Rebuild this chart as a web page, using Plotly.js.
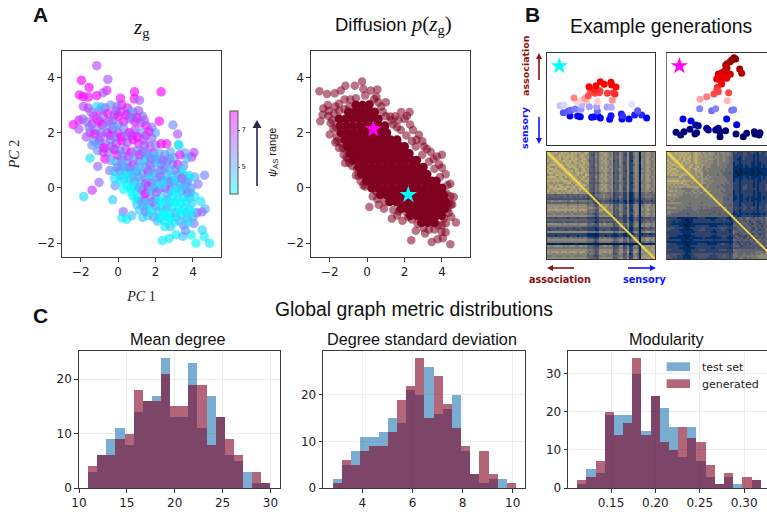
<!DOCTYPE html>
<html><head><meta charset="utf-8">
<script src="https://cdn.plot.ly/plotly-3.0.1.min.js"></script>
<style>html,body{margin:0;padding:0;background:#fff;overflow:hidden}</style>
</head><body><div id="chart" style="width:767px;height:515px"></div>
<script>
// ---------- Panel A: z_g scatter, [PC1, PC2, psi_AS range]
const zgPoints = [
[-1.14,4.43,6.8],[-1.96,3.9,8],[-.55,3.93,6.5],[-1.55,3.64,8],[-.6,3.53,7.6],[-.8,3.45,6.5],[-2.07,3.37,7.8],[-1.86,3.31,7.9],[-1.59,3.29,7.9],[-1.14,3.34,8],[.88,3.48,8],[2.3,3.48,8],[.86,3.23,7.8],[1.14,3.18,6.5],[.13,3.25,7.8],[-1.86,2.95,6.8],
[2.2,2.42,8],[2.93,2.28,5.5],[3.18,1.95,6.5],[3.23,1.57,4.2],[-2.39,2.29,8],[-2.1,2.13,6.5],[-2.1,2.45,7.5],[-1.9,2.5,6.5],[-1.5,1.08,4.2],[-1.09,.78,6.2],[-1.02,.2,6.2],[-1.39,-.08,7],[-1.84,-.31,4.2],[-.29,-.43,4.3],[-.16,.08,5.5],[-.45,.63,6],[.27,-.86,6.2],[.2,-1.08,3.8],[.46,-1.13,3.8],[.73,-1,4.5],[1.32,-1.07,4.4],
[2.37,-1.9,3.8],[2.73,-1.83,4],[3.09,-1.69,3.8],[3.46,-1.75,4.5],[3.91,-1.7,3.8],[4.16,-2,3.5],[4.89,-2,3.8],[4.6,-1.76,3.8],[4.5,-1.52,4.2],[3.6,-1.54,5.5],[4.05,-1.29,5.8],[4.62,.46,5.7],[4.27,.14,6],[4.43,-.49,4],[4.66,-.76,4.8],[4.48,-.87,6.2],[4.2,-.9,6.5],[4.05,1.28,6.8],[3.93,1.12,6.8],[3.68,1.08,4.8],[3.57,1.27,5.2],[2.6,1.6,7.5],
[-1.6,2.9,7],[-1.3,2.6,7.8],[-1,2.8,7.5],[-.7,2.9,6.5],[-.4,3,5.5],[-.1,2.8,7],[.2,3,7.5],[.5,2.9,7.8],[.8,2.75,6],[1.1,2.8,6.5],[1.3,2.6,6],[-1.7,2.4,6],[-1.4,2.3,7.5],[-1.2,2.1,5.5],[-1.5,2,7.2],[-1.7,1.85,6.5],[-1,2.4,8],[-.8,2.6,6.2],[-.5,2.4,7],[-.2,2.65,6],[0,2.6,8],[0,2.3,5.5],[.3,2.4,7.8],[.6,2.5,6],[.9,2.4,8],[1.2,2.35,6.5],[1.5,2.25,7.8],[1.8,2.2,6],[2,2,5],[-.9,2,5.8],[-.6,2,6.5],[-.3,2.1,8],[0,2,7],[.3,2.15,5.8],[.6,2,8],[.9,2.1,6.8],[1.2,2,5.2],[1.5,1.9,7],[1.8,1.8,6.2],
[-1.3,1.7,5.5],[-1,1.7,7.5],[-.7,1.6,6],[-.4,1.75,5.5],[-.1,1.6,6.8],[.2,1.7,8],[.5,1.65,6.5],[.8,1.75,8],[1.1,1.6,7.8],[1.4,1.55,6.2],[1.7,1.5,7],[2,1.55,5.5],[2.3,1.6,8],[-1.1,1.35,5.5],[-.8,1.3,6.8],[-.5,1.3,5.8],[-.2,1.4,8],[.1,1.35,5.5],[.4,1.4,6.5],[.7,1.3,7.8],[1,1.35,5.5],[1.3,1.3,6.5],[1.6,1.2,4.5],[1.9,1.25,7.5],[2.2,1.25,5],[2.5,1.2,5.5],[2.8,1.3,5],[3,1.1,4.8],[3.3,1.2,7.5],
[-.7,1.05,8],[-.4,1,5.5],[-.1,.95,4.5],[.2,1,6.2],[.5,.9,5],[.8,.85,7.8],[1.1,.95,6],[1.4,1,4.2],[1.7,.85,6.5],[2,.9,5.5],[2.3,.85,5],[2.6,.95,6],[2.9,.85,5.8],[3.2,.85,7.5],[3.5,.8,5.5],[-.2,.6,4.3],[.1,.6,5.5],[.4,.6,4.8],[.7,.55,5.5],[1,.6,6.5],[1.3,.5,5],[1.6,.6,7.8],[1.9,.55,5.5],[2.3,.65,7],[2.6,.5,4.8],[2.9,.4,4.2],[3.2,.5,5.2],[3.5,.45,5],[3.8,.45,4],[4.1,.4,5],
[.3,.3,3.9],[.6,.3,5],[.9,.25,6.2],[1.2,.2,4.2],[1.5,.35,5.5],[1.8,.2,7.8],[2.1,.3,5],[2.4,.25,5.5],[2.7,.2,6.5],[3,.15,4.5],[3.3,.2,5.2],[3.6,.1,6],[3.9,0,5.5],[.3,-.05,3.6],[.7,0,3.7],[1,-.05,4.2],[1.3,-.1,6],[1.6,.05,7.8],[1.9,0,5],[2.2,-.05,4.8],[2.5,0,7.5],[2.8,-.1,6.5],[3.1,0,4.5],[3.4,-.1,5],[3.7,-.2,7.5],
[.8,-.3,3.6],[1.1,-.35,4.2],[1.4,-.45,7.5],[1.7,-.3,5.5],[2,-.4,5],[2.3,-.35,4.2],[2.6,-.45,4.8],[2.9,-.3,3.9],[3.2,-.4,4.5],[3.5,-.35,3.8],[3.8,-.35,4.5],[4.1,-.3,4],[1,-.6,4.5],[1.35,-.65,5.5],[1.65,-.75,4],[2,-.65,6],[2.3,-.7,3.7],[2.6,-.75,6.5],[2.9,-.65,3.7],[3.2,-.75,3.7],[3.5,-.7,4.2],[3.8,-.8,4],[1.6,-1,4.2],[1.9,-1.05,5.5],[2.2,-1.1,4.2],[2.5,-1.2,3.7],[2.8,-1.1,3.5],[3.1,-1.05,4.2],[3.4,-1,3.9],[3.7,-1.1,4.5],[4,-1.05,5],[2.5,-1.4,3.8],[2.8,-1.4,4.3],[3.5,-1.35,5.5],[3.75,-1.25,4.2],
[-1.14,2.95,4],[-.88,2.93,4.8],[-.2,.35,4],[.1,.25,3.8],[.35,.75,4.4],[2.2,.95,4],[1.9,1.15,3.9],[1.5,1.05,4.2],[3.25,1.55,4],[3.4,.65,4],[3.8,.35,3.8],[-.2,2.2,4.8],[-1.4,1.55,5.5],[-1.1,1.6,5],[.6,2.75,4.8],
[-1.45,2.75,6.2],[-1.15,2.5,6.8],[-.85,2.3,7.9],[-.55,2.7,7.6],[-.3,2.45,6.4],[-.05,2.95,6],[.15,2.75,7],[.45,2.65,7.8],[.75,2.55,5.8],[1,2.55,7.2],[1.4,2.45,6.4],[1.65,2.05,7.5],[-1.55,2.2,5.8],[-1.25,1.95,7.6],[-.95,1.85,6.4],[-.65,2.25,5.6],[-.45,1.9,7.4],[-.15,1.85,6],[.15,1.85,7.8],[.45,1.9,6.2],[.75,1.9,7],[1.05,1.85,7.9],[1.35,1.75,6.6],[-.75,1.45,7.9],[-.35,1.5,6.5],[-.05,1.2,7.4],[.25,1.15,5.5],[.55,1.15,6.8],[.85,1.1,5.4],[1.15,1.2,7],[1.45,1.3,5.8],[1.75,1.05,6.2],[2.05,1.05,5.2],[2.4,1,6.4],[2.75,1.05,5.4],[3.05,.65,5.8],[2.75,.65,4.6],[2.45,.7,5.6],[2.15,.55,5],[1.75,.7,5.4],[1.45,.75,5.8],[1.15,.75,4.6],[.85,.65,4.4],[.6,.75,6],[.2,.8,5.2],[-.05,.75,5.8],[.15,.45,4.2],[.5,.45,3.8],[.8,.45,4.4],[1.1,.4,5.2],[1.45,.15,6.6],[1.7,.4,4.4],[2,.15,4.6],[2.25,.4,6],[2.55,.25,4.2],[2.85,.25,5.6],[3.1,.3,4],[3.4,.35,6.2],[3.7,.2,5.6],[.5,.1,3.6],[.85,.1,3.8],[1.15,0,5.2],[1.45,-.2,7.8],[1.75,-.1,4.4],[2.05,-.15,6.4],[2.35,.1,4],[2.65,-.2,5],[2.95,-.15,3.7],[3.25,-.15,4],[3.55,.05,4.6],[3.85,-.15,4.8],[.7,-.15,3.6],[.95,-.4,3.8],[1.25,-.5,5],[1.55,-.55,4.4],[1.85,-.5,6.2],[2.15,-.5,3.8],[2.45,-.55,3.6],[2.75,-.5,4.2],[3.05,-.5,3.5],[3.35,-.55,3.6],[3.65,-.5,3.9],[3.95,-.55,4.2],[1.15,-.8,4.4],[1.45,-.85,5.6],[1.8,-.85,3.8],[2.15,-.85,4.8],[2.45,-.9,3.5],[2.75,-.9,3.6],[3.05,-.9,4.6],[3.35,-.85,3.5],[3.65,-.9,4],[3.95,-.85,3.8],[2.1,-1.2,4.4],[2.35,-1.05,3.6],[2.65,-1.05,3.5],[3,-1.25,3.8],[3.3,-1.2,4.6]
];
const psiTickVals = [5, 7];

// ---------- Panel A: diffusion samples
const diffusionCoreRows = [
[3,[-.6,-.25,.1]],[2.75,[-1,-.65,-.3,.05,.4]],[2.5,[-1.5,-1.15,-.8,-.45,-.1,.25,.6]],[2.25,[-1.45,-1.1,-.75,-.4,-.05,.3,.65,.95]],[2,[-1.4,-1.05,-.7,-.35,0,.35,.7,1.05]],[1.75,[-1.2,-.85,-.5,-.15,.2,.55,.9,1.25,1.6]],[1.5,[-1.05,-.7,-.35,0,.35,.7,1.05,1.4,1.75,2]],[1.25,[-.9,-.55,-.2,.15,.5,.85,1.2,1.55,1.9,2.25]],[1,[-.75,-.4,-.05,.3,.65,1,1.35,1.7,2.05,2.4,2.65]],[.75,[-.45,-.1,.25,.6,.95,1.3,1.65,2,2.35,2.7,3]],[.5,[-.3,.05,.4,.75,1.1,1.45,1.8,2.15,2.5,2.85,3.2]],[.25,[-.05,.3,.65,1,1.35,1.7,2.05,2.4,2.75,3.1,3.45,3.7]],[0,[.25,.6,.95,1.3,1.65,2,2.35,2.7,3.05,3.4,3.75,4]],[-.25,[.7,1.05,1.4,1.75,2.1,2.45,2.8,3.15,3.5,3.85,4.1]],[-.5,[1.2,1.55,1.9,2.25,2.6,2.95,3.3,3.65,4,4.2]],[-.75,[1.8,2.15,2.5,2.85,3.2,3.55,3.9,4.15]],[-1,[2.3,2.65,3,3.35,3.7,4]],[-1.25,[2.9,3.25,3.6]]
];
const diffusionEdge = [
[-2.55,3.5],[-2.14,3.4],[-1.73,3.43],[-1.41,3.53],[-1.16,3.7],[-.66,3.7],[-.27,3.86],[-.2,3.58],[.2,3.53],[.55,3.57],[.38,3.22],[1,3.1],[-2.34,2.88],[-2.38,2.65],[-2.1,3],[-1.7,2.95],[-2.5,2.42],[-2.07,2.61],[-2,1.94],[-1.62,1.86],[-1.4,1.63],[-1.12,1.39],[-1.18,.9],[-.95,.9],[-.46,.45],[.12,-.69],[.55,-.4],[.62,-.61],[1.32,-1.11],[1.89,-1.19],[2.36,-1.89],[3.45,-1.96],[3.77,-1.86],[4.05,-1.82],[4.45,-2.04],[3.98,-1.59],[4.2,-1.6],[4.75,-1.25],[4.21,-1.28],[4.63,-.33],[4.3,.11],[4,.73],[4,1.2],[3.55,1.05],[2.95,1.69],[2.77,1.93],[2.3,2.3],[2.27,2.75],[2.13,2.61],[1.82,2.75],[1.68,2.47],[1.23,2.59],[3.2,1.41],[3.73,1.14],[4.48,-.6],[4.36,-.9],[3.55,-1.27],[3.02,-1.45],[2.4,-1.14],[2.13,-.9],
[-1.5,3.05],[-1.2,3.2],[-.9,3.2],[-.6,3.25],[.75,2.95],[.6,3.1],[1,2.6],[1.4,2.3],[1.8,2.1],[2.1,1.9],[2.4,1.7],[2.6,1.5],[2.95,1.2],[3.3,.95],[3.6,.7],[3.9,.4],[4.25,-.2],[4.45,-.3],[4.35,-.55],[4.3,-.75],[4.1,-1.1],[3.8,-1.35],[3.3,-1.5],[2.7,-1.3],[2.2,-1.05],[1.7,-.85],[1.4,-.8],[.95,-.5],[.5,-.15],[.2,.15],[-.1,.05],[-.35,.25],[-.55,.7],[-.8,.8],[-1,1.05],[-1.25,1.2],[-1.5,1.45],[-1.7,1.65],[-1.8,2.15],[-1.85,2.45],[-2.05,2.8],[-1.75,2.7],[-1.5,2.8],[-1.2,2.85],[-.95,2.95],[.5,3.3],[-.1,3.35],
[1.5,2.6],[2,2.5],[2.45,2.1],[2.65,1.75],[3.05,1.5],[3.4,1.3],[3.85,.85],[4.2,.5],[4.45,.15],[4.55,-.6],[.15,3.05],[.85,2.75],[1.3,2.45],[1.6,2.2],[-1.95,2.35],[-1.65,2.2],[-1.6,1.7],[-1.3,1.45],[-1.1,1.1],[-.6,.45],[-.2,.1],[.3,-.3],[.9,-.75],[1.6,-1],[2.6,-1.55],[3.1,-1.65],[3.6,-1.5],[4,-1.35],[4.5,-1.05]
];
const starCyan = [2.2, -0.25];
const starMagenta = [0.33, 2.13];

// ---------- Panel B: example graphs [image x, image y, position on the association axis]
const graphCyan = [
[75,198,.25],[98,198,.25],[106,200,.24],[140,202,.25],[148,200,.26],[158,197,.27],[166,204,.24],[194,208,.24],[198,197,.27],[229,192,.28],[231,207,.23],[252,207,.23],[269,195,.28],[290,195,.29],[305,204,.25],
[55,188,.33],[70,183,.34],[78,181,.35],[90,177,.37],[157,183,.35],[278,182,.34],[233,198,.3],
[108,178,.4],[110,165,.43],[133,170,.41],[155,170,.41],[186,171,.41],[199,172,.42],[45,167,.44],[57,165,.46],[260,163,.47],
[97,155,.54],[113,150,.55],[125,152,.56],[157,155,.55],[120,145,.6],[87,144,.62],[202,151,.61],
[130,137,.67],[137,125,.68],[150,130,.68],[163,128,.68],[165,122,.69],[153,123,.7],[187,130,.69],[205,128,.69],[147,118,.72],[210,132,.71],
[132,110,.75],[153,107,.75],[166,95,.76],[178,103,.75],[198,97,.76],[213,111,.74],[200,105,.75]
];
const graphMagenta = [
[207,23,.98],[212,27,.97],[200,30,.96],[195,35,.95],[186,41,.93],[182,46,.92],[224,57,.91],[230,70,.89],
[186,55,.87],[180,62,.86],[170,68,.85],[160,72,.84],[190,74,.84],[196,73,.84],[178,75,.83],[165,75,.82],
[155,87,.79],[172,87,.79],[180,82,.8],[170,102,.75],[157,112,.72],[165,90,.78],[185,85,.79],[160,80,.8],
[156,118,.7],[147,132,.68],[191,128,.68],[160,125,.68],[125,140,.63],[105,148,.59],[187,152,.57],
[104,176,.38],[140,182,.36],[152,176,.38],[200,181,.36],[206,179,.37],[54,207,.24],[78,213,.22],[185,207,.24],[215,224,.2],
[33,247,.06],[47,255,.05],[57,245,.05],[75,238,.07],[92,225,.12],[100,227,.11],[90,252,.05],[95,248,.05],[125,235,.09],[130,240,.08],[152,240,.08],[160,235,.09],[165,245,.06],[165,260,.03],[182,242,.07],[213,252,.05],[235,260,.04],[245,250,.05],[268,245,.06],[270,252,.05],[282,255,.04],[285,248,.05]
];
const graphStar = [43, 48];

// ---------- Panel B: connectivity matrices, upper triangle, one digit per cell (0 dark .. 9 bright)
const matrixCyan = [
"987786787876878776787 44354 6767656 343 65336 22565 06567656",
"98767878687877678776 43354 6677656 343 65326 22565 06566656",
"9877868787877678767 44364 6767656 344 65336 22465 05567656",
"987867876878767876 44354 6767566 343 65336 22565 06567566",
"98778778787678776 34354 6677656 243 65336 21565 06567656",
"9876878678776877 44354 6767656 343 65236 22565 16567656",
"987787877687867 44364 6667656 343 65336 22465 06566656",
"98678787678776 43354 6767566 343 55336 22565 06567656",
"9877678767867 44354 6767656 344 65336 22565 05567566",
"987868767876 44354 6677656 343 65326 22565 06567656",
"98767878677 33343 5667556 243 55336 21465 05566656",
"9877867687 44354 6767656 343 65336 22565 06567656",
"987677876 44364 6767566 343 65336 22565 06567566",
"98768767 43354 6677656 343 65236 22465 06567656",
"9786787 44354 6767656 344 65336 22565 15567656",
"987667 33343 5666556 243 55326 21465 05566556",
"97876 44354 6767656 343 65336 22565 06567656",
"9766 44354 6677566 343 65336 22465 06567656",
"976 43354 6767656 343 65236 22565 05567566",
"86 44354 6667656 344 65336 22565 06566656",
"8 33243 4555445 233 44225 11354 04455445",
"73354 5565545 233 44225 11354 04454544",
"7344 5565545 233 54225 11354 04455544",
"833 4454434 232 43225 11243 03344434",
"72 3343323 121 33114 00232 02333323",
"8 3443433 222 33214 11243 02343433",
"8767656 343 65336 22565 05567656",
"867656 343 55336 22465 05566656",
"87566 344 65326 22565 06567566",
"8656 343 65336 21565 06567656",
"866 343 55336 22465 05566556",
"86 343 65336 22565 06567656",
"8 243 55226 21464 05566556",
"733 33224 11343 02333343",
"83 44225 11343 03344344",
"8 44225 21454 03445445",
"86446 22465 05566656",
"8436 22565 06566556",
"825 11343 02334334",
"84 11343 03344344",
"8 22565 05567656",
"81233 01222122",
"8343 02223223",
"864 05566656",
"85 06567566",
"8 04455445",
"80111111",
"8767667","876676","87677","8767","877","87","9"
];
const matrixMagenta = [
"987787878787678776 766766565665654 232223322322132232343",
"98778787877678776 676766565565654 222223322212122232333",
"9877878778678767 676665665565544 222123222212122222333",
"987868787678776 666766565565544 221123222212122222332",
"98778778678767 676665565565544 222122222212122222333",
"9786877678776 666665565555544 122122222112112222322",
"987767867767 666655565555444 121112122112112122322",
"98678767867 566655555555444 111112112111112122222",
"9777678676 565555555554444 111011111011011112211",
"977667776 556555555454444 101001111001001111111",
"87667677 555555555544434 100001011001000111111",
"8767667 556555545544444 110011111011011111211",
"876767 565655555554444 111112112111112122222",
"87667 666555555555444 122112212112112122322",
"8667 656565555555444 122122222212112222332",
"867 665655555554544 222122222212122222333",
"86 556555555454444 222122322212122232333",
"8 556555545544444 222123322212122232333",
"865555555554444 222123322222122232333",
"85655555454444 122122222212122222333",
"8555555544444 122122222212112222332",
"865555554434 122112222212112222322",
"85555544444 112112212112112122322",
"8555544344 112112112111112122222",
"855544444 122112212112112222322",
"85544444 222122222212122222332",
"8544434 222123222212122232333",
"844444 222123322222132232333",
"85444 232223322322132232343",
"8444 222123222222122232333",
"844 122122222212122222333",
"83 112112112111112122222",
"8 221122222212122222333",
"833443454334344354555",
"83443443434334345554",
"8344342343234344454",
"834434234323344445",
"83443343342344455",
"8344324333344554",
"834234323344454",
"83443343344455",
"8234323344454",
"834434344555",
"83343344455",
"8443445555",
"834345565",
"84345566",
"8445666",
"834566",
"85666","8677","876","87","9"
];

// ---------- Panel C: histograms
const meanDegreeStart = 10.95, meanDegreeWidth = 0.9525;
const meanDegreeTest = [3,6,9,11,8,14,16,17,24,13,13,23,11,17,13,6,5,3,1,1];
const meanDegreeGen  = [4,6,6,9,10,18,16,16,21,15,15,19,19,8,13,9,6,0,3,1];
const degreeStdStart = 2.82, degreeStdWidth = 0.3655;
const degreeStdTest = [2,5,8,11,11,12,15,14,21,20,26,16,17,20,8,3,1,2,2,0];
const degreeStdGen  = [1,6,5,8,9,9,12,19,22,28,15,24,18,13,9,3,8,3,0,1];
const modularityStart = 0.112, modularityWidth = 0.01033;
const modularityTest = [1,5,4,19,19,19,30,15,24,21,16,8,16,7,3,1,3,1,0,2];
const modularityGen  = [2,3,7,20,14,17,34,14,24,12,10,16,13,12,6,1,4,0,3,2];

const BLUE = 'rgba(31,119,180,0.6)', WINE = 'rgba(128,0,32,0.6)';
const W = 767, H = 515;
const dx = (a,b) => [a/W, b/W];
const dy = (top,bottom) => [1-bottom/H, 1-top/H];
const SANS = 'Liberation Sans, Arial, sans-serif', DJ = 'DejaVu Sans, sans-serif', SERIF = 'Liberation Serif, serif';
const frame = {showline:true, mirror:true, linecolor:'#3a3a3a', linewidth:1.2, zeroline:false, showgrid:false, ticks:'outside', ticklen:3.5, tickwidth:1, tickcolor:'#333', tickfont:{family:DJ,size:12,color:'#222'}};
const bare = {showline:true, mirror:true, linecolor:'#333', linewidth:1.2, zeroline:false, showgrid:false, showticklabels:false, ticks:''};
const histGrid = {showgrid:true, gridcolor:'rgba(0,0,0,0.07)', gridwidth:1};

const cols = (rows,k) => rows.map(r => r[k]);
const coreX = diffusionCoreRows.flatMap(r => r[1]);
const coreY = diffusionCoreRows.flatMap(r => r[1].map(() => r[0]));
function square(rows){
  const clean = rows.map(r => r.replace(/ /g,''));
  const n = clean.length, z = Array.from({length:n}, () => new Array(n).fill(5));
  clean.forEach((r,i) => { for (let k=0;k<r.length && i+k<n;k++){ z[i][i+k] = +r[k]; z[i+k][i] = +r[k]; } });
  return z;
}
const centers = (start,width,n) => Array.from({length:n}, (_,i) => start + width*(i+.5));
const seismic = [[0,'rgb(0,0,76)'],[.25,'rgb(0,0,255)'],[.5,'rgb(255,255,255)'],[.75,'rgb(255,0,0)'],[1,'rgb(128,0,0)']];

const data = [
 {type:'scatter',mode:'markers',xaxis:'x',yaxis:'y',x:cols(zgPoints,0),y:cols(zgPoints,1),
  marker:{size:9.5,color:cols(zgPoints,2),cmin:3.54,cmax:8.03,colorscale:[[0,'rgba(0,255,255,0.65)'],[1,'rgba(255,0,255,0.65)']],showscale:false}},
 {type:'scatter',mode:'markers',xaxis:'x',yaxis:'y',x:[null],y:[null],
  marker:{size:1,color:[5],cmin:3.54,cmax:8.03,colorscale:[[0,'rgba(0,255,255,0.5)'],[1,'rgba(255,0,255,0.5)']],showscale:true,
   colorbar:{x:230/W,xanchor:'left',y:1-111/H,yanchor:'top',lenmode:'pixels',len:83,thicknessmode:'pixels',thickness:8,xpad:0,ypad:0,
     tickvals:psiTickVals,ticks:'outside',ticklen:2,tickwidth:.8,tickcolor:'#333',tickfont:{family:DJ,size:7,color:'#222'},outlinewidth:1,outlinecolor:'#555',borderwidth:0}}},
 {type:'scatter',mode:'markers',xaxis:'x2',yaxis:'y2',x:coreX,y:coreY,marker:{size:9,color:'rgb(128,0,32)'}},
 {type:'scatter',mode:'markers',xaxis:'x2',yaxis:'y2',x:cols(diffusionEdge,0),y:cols(diffusionEdge,1),marker:{size:8.5,color:'rgba(128,0,32,0.55)'}},
 {type:'scatter',mode:'markers',xaxis:'x2',yaxis:'y2',x:[starMagenta[0]],y:[starMagenta[1]],marker:{symbol:'star',size:13,color:'#ff00ff'}},
 {type:'scatter',mode:'markers',xaxis:'x2',yaxis:'y2',x:[starCyan[0]],y:[starCyan[1]],marker:{symbol:'star',size:13,color:'#00ffff'}},
 {type:'scatter',mode:'markers',xaxis:'x3',yaxis:'y3',x:cols(graphCyan,0),y:cols(graphCyan,1),marker:{size:7,color:cols(graphCyan,2),cmin:0,cmax:1,colorscale:seismic}},
 {type:'scatter',mode:'markers',xaxis:'x3',yaxis:'y3',x:[graphStar[0]],y:[graphStar[1]],marker:{symbol:'star',size:13,color:'#00ffff'}},
 {type:'scatter',mode:'markers',xaxis:'x4',yaxis:'y4',x:cols(graphMagenta,0),y:cols(graphMagenta,1),marker:{size:7,color:cols(graphMagenta,2),cmin:0,cmax:1,colorscale:seismic}},
 {type:'scatter',mode:'markers',xaxis:'x4',yaxis:'y4',x:[graphStar[0]],y:[graphStar[1]],marker:{symbol:'star',size:13,color:'#ff00ff'}},
 {type:'heatmap',xaxis:'x5',yaxis:'y5',z:square(matrixCyan),zmin:0,zmax:10.5,colorscale:'Cividis',showscale:false},
 {type:'heatmap',xaxis:'x6',yaxis:'y6',z:square(matrixMagenta),zmin:0,zmax:10.5,colorscale:'Cividis',showscale:false},
 {type:'bar',xaxis:'x7',yaxis:'y7',x:centers(meanDegreeStart,meanDegreeWidth,meanDegreeTest.length),y:meanDegreeTest,width:meanDegreeWidth,marker:{color:BLUE,line:{width:0}},name:'test set'},
 {type:'bar',xaxis:'x7',yaxis:'y7',x:centers(meanDegreeStart,meanDegreeWidth,meanDegreeGen.length),y:meanDegreeGen,width:meanDegreeWidth,marker:{color:WINE,line:{width:0}},name:'generated'},
 {type:'bar',xaxis:'x8',yaxis:'y8',x:centers(degreeStdStart,degreeStdWidth,degreeStdTest.length),y:degreeStdTest,width:degreeStdWidth,marker:{color:BLUE,line:{width:0}},name:'test set'},
 {type:'bar',xaxis:'x8',yaxis:'y8',x:centers(degreeStdStart,degreeStdWidth,degreeStdGen.length),y:degreeStdGen,width:degreeStdWidth,marker:{color:WINE,line:{width:0}},name:'generated'},
 {type:'bar',xaxis:'x9',yaxis:'y9',x:centers(modularityStart,modularityWidth,modularityTest.length),y:modularityTest,width:modularityWidth,marker:{color:BLUE,line:{width:0}},name:'test set'},
 {type:'bar',xaxis:'x9',yaxis:'y9',x:centers(modularityStart,modularityWidth,modularityGen.length),y:modularityGen,width:modularityWidth,marker:{color:WINE,line:{width:0}},name:'generated'}
];

function label(text,px,py,size,opts={}){
  return Object.assign({xref:'paper',yref:'paper',x:px/W,y:1-py/H,text,showarrow:false,xanchor:'center',yanchor:'middle',font:{family:SANS,size,color:'#111'}},opts);
}
const DARKRED='#8b1010', PURE='#1414ff';
const annotations = [
 label('<b>A</b>',40,14,21),label('<b>B</b>',532,14,21),label('<b>C</b>',40,315,21),
 label('<i>z</i><sub>g</sub>',141,28,21,{font:{family:SERIF,size:21,color:'#111'}}),
 label('Diffusion <span style="font-family:Liberation Serif;font-size:21px"><i>p</i>(<i>z</i><sub>g</sub>)</span>',393,25,18.5),
 label('Example generations',661,26,19.4),
 label('Mean degree',177,339,16.2),label('Degree standard deviation',422,339,16.2),label('Modularity',667,339,16.2),
 label('<i>ψ</i><sub>AS</sub> range',273,153,11,{textangle:-90}),
 label('<b>association</b>',525,66,9.5,{textangle:-90,font:{family:DJ,size:9.5,color:DARKRED}}),
 label('<b>sensory</b>',525,128,9.5,{textangle:-90,font:{family:DJ,size:9.5,color:PURE}}),
 label('<b>association</b>',560,279,9.7,{font:{family:DJ,size:9.7,color:DARKRED}}),
 label('<b>sensory</b>',644,279,9.7,{font:{family:DJ,size:9.7,color:PURE}}),
 label('test set',700,367,11,{xanchor:'left',font:{family:DJ,size:11,color:'#222'}}),
 label('generated',700,384,11,{xanchor:'left',font:{family:DJ,size:11,color:'#222'}})
];
const pr = (a,b,c,d,fill) => ({type:'rect',xref:'paper',yref:'paper',x0:a/W,x1:b/W,y0:1-d/H,y1:1-c/H,fillcolor:fill,line:{width:0}});
function arrowShapes(x0,y0,x1,y1,color,w,headLen,headHalf){
  const L = Math.hypot(x1-x0,y1-y0), ux=(x1-x0)/L, uy=(y1-y0)/L;
  const bx=x1-ux*headLen, by=y1-uy*headLen;
  const P=(x,y)=>`${x/W},${1-y/H}`;
  return [
   {type:'line',xref:'paper',yref:'paper',x0:x0/W,y0:1-y0/H,x1:bx/W,y1:1-by/H,line:{color,width:w}},
   {type:'path',xref:'paper',yref:'paper',path:`M${P(x1,y1)} L${P(bx-uy*headHalf,by+ux*headHalf)} L${P(bx+uy*headHalf,by-ux*headHalf)} Z`,fillcolor:color,line:{width:0}}
  ];
}
const shapes = [
 pr(666.7,690,362.3,371,BLUE),pr(666.7,690,379.3,388,WINE),
 {type:'line',xref:'x5',yref:'y5',x0:-.5,y0:-.5,x1:53.5,y1:53.5,line:{color:'#f0da3c',width:1.7}},
 {type:'line',xref:'x6',yref:'y6',x0:-.5,y0:-.5,x1:53.5,y1:53.5,line:{color:'#f0da3c',width:1.7}},
 ...arrowShapes(257,186,257,120,'#2a2550',1.6,8,4.5),
 ...arrowShapes(539,80,539,53,DARKRED,1.6,6,3),...arrowShapes(539,117,539,144,PURE,1.6,6,3),
 ...arrowShapes(574,268,547,268,DARKRED,1.6,6,3),...arrowShapes(628,268,656,268,PURE,1.6,6,3)
];

const layout = {
 width:W,height:H,margin:{l:0,r:0,t:0,b:0},paper_bgcolor:'#fff',plot_bgcolor:'#fff',showlegend:false,barmode:'overlay',bargap:0,hovermode:false,
 title:{text:'Global graph metric distributions',x:414/W,xanchor:'center',y:1-309/H,yanchor:'middle',font:{family:SANS,size:19.4,color:'#111'}},
 annotations,shapes,
 xaxis:{...frame,domain:dx(62,221),range:[-3,5.5],tickvals:[-2,0,2,4],title:{text:'<i>PC</i> 1',standoff:13,font:{family:SERIF,size:14,color:'#222'}}},
 yaxis:{...frame,domain:dy(51,257),range:[-2.5,4.96],tickvals:[-2,0,2,4],title:{text:'<i>PC</i> 2',standoff:14,font:{family:SERIF,size:14,color:'#222'}}},
 xaxis2:{...frame,domain:dx(311,470),range:[-3,5.5],tickvals:[-2,0,2,4]},
 yaxis2:{...frame,domain:dy(51,257),range:[-2.5,4.96],tickvals:[-2,0,2,4]},
 xaxis3:{...bare,domain:dx(547,655),range:[6,330]},
 yaxis3:{...bare,domain:dy(53,145),range:[285,9]},
 xaxis4:{...bare,domain:dx(667,767),range:[6,306]},
 yaxis4:{...bare,mirror:false,linecolor:'#777',domain:dy(53,145),range:[285,9]},
 xaxis5:{...bare,domain:dx(547,655),range:[-.5,53.5]},
 yaxis5:{...bare,domain:dy(152,259),range:[53.5,-.5]},
 xaxis6:{...bare,domain:dx(667,767),range:[-.5,49.5]},
 yaxis6:{...bare,mirror:false,linecolor:'#555',domain:dy(152,259),range:[53.5,-.5]},
 xaxis7:{...frame,...histGrid,domain:dx(79,280),range:[10,31],tickvals:[10,15,20,25,30]},
 yaxis7:{...frame,...histGrid,domain:dy(351,488),range:[0,25.2],tickvals:[0,10,20]},
 xaxis8:{...frame,...histGrid,domain:dx(323.3,525),range:[2.44,10.49],tickvals:[4,6,8,10]},
 yaxis8:{...frame,...histGrid,domain:dy(351,488),range:[0,29.46],tickvals:[0,10,20]},
 xaxis9:{...frame,...histGrid,domain:dx(568.3,767),range:[0.1019,0.3257],tickvals:[.15,.2,.25,.3],tickformat:'.2f'},
 yaxis9:{...frame,...histGrid,mirror:false,domain:dy(351,488),range:[0,35.9],tickvals:[0,10,20,30]}
};
for (let k=2;k<=9;k++){ layout['xaxis'+k].anchor='y'+k; layout['yaxis'+k].anchor='x'+k; }
Plotly.newPlot('chart',data,layout,{displayModeBar:false,staticPlot:true});
</script></body></html>
